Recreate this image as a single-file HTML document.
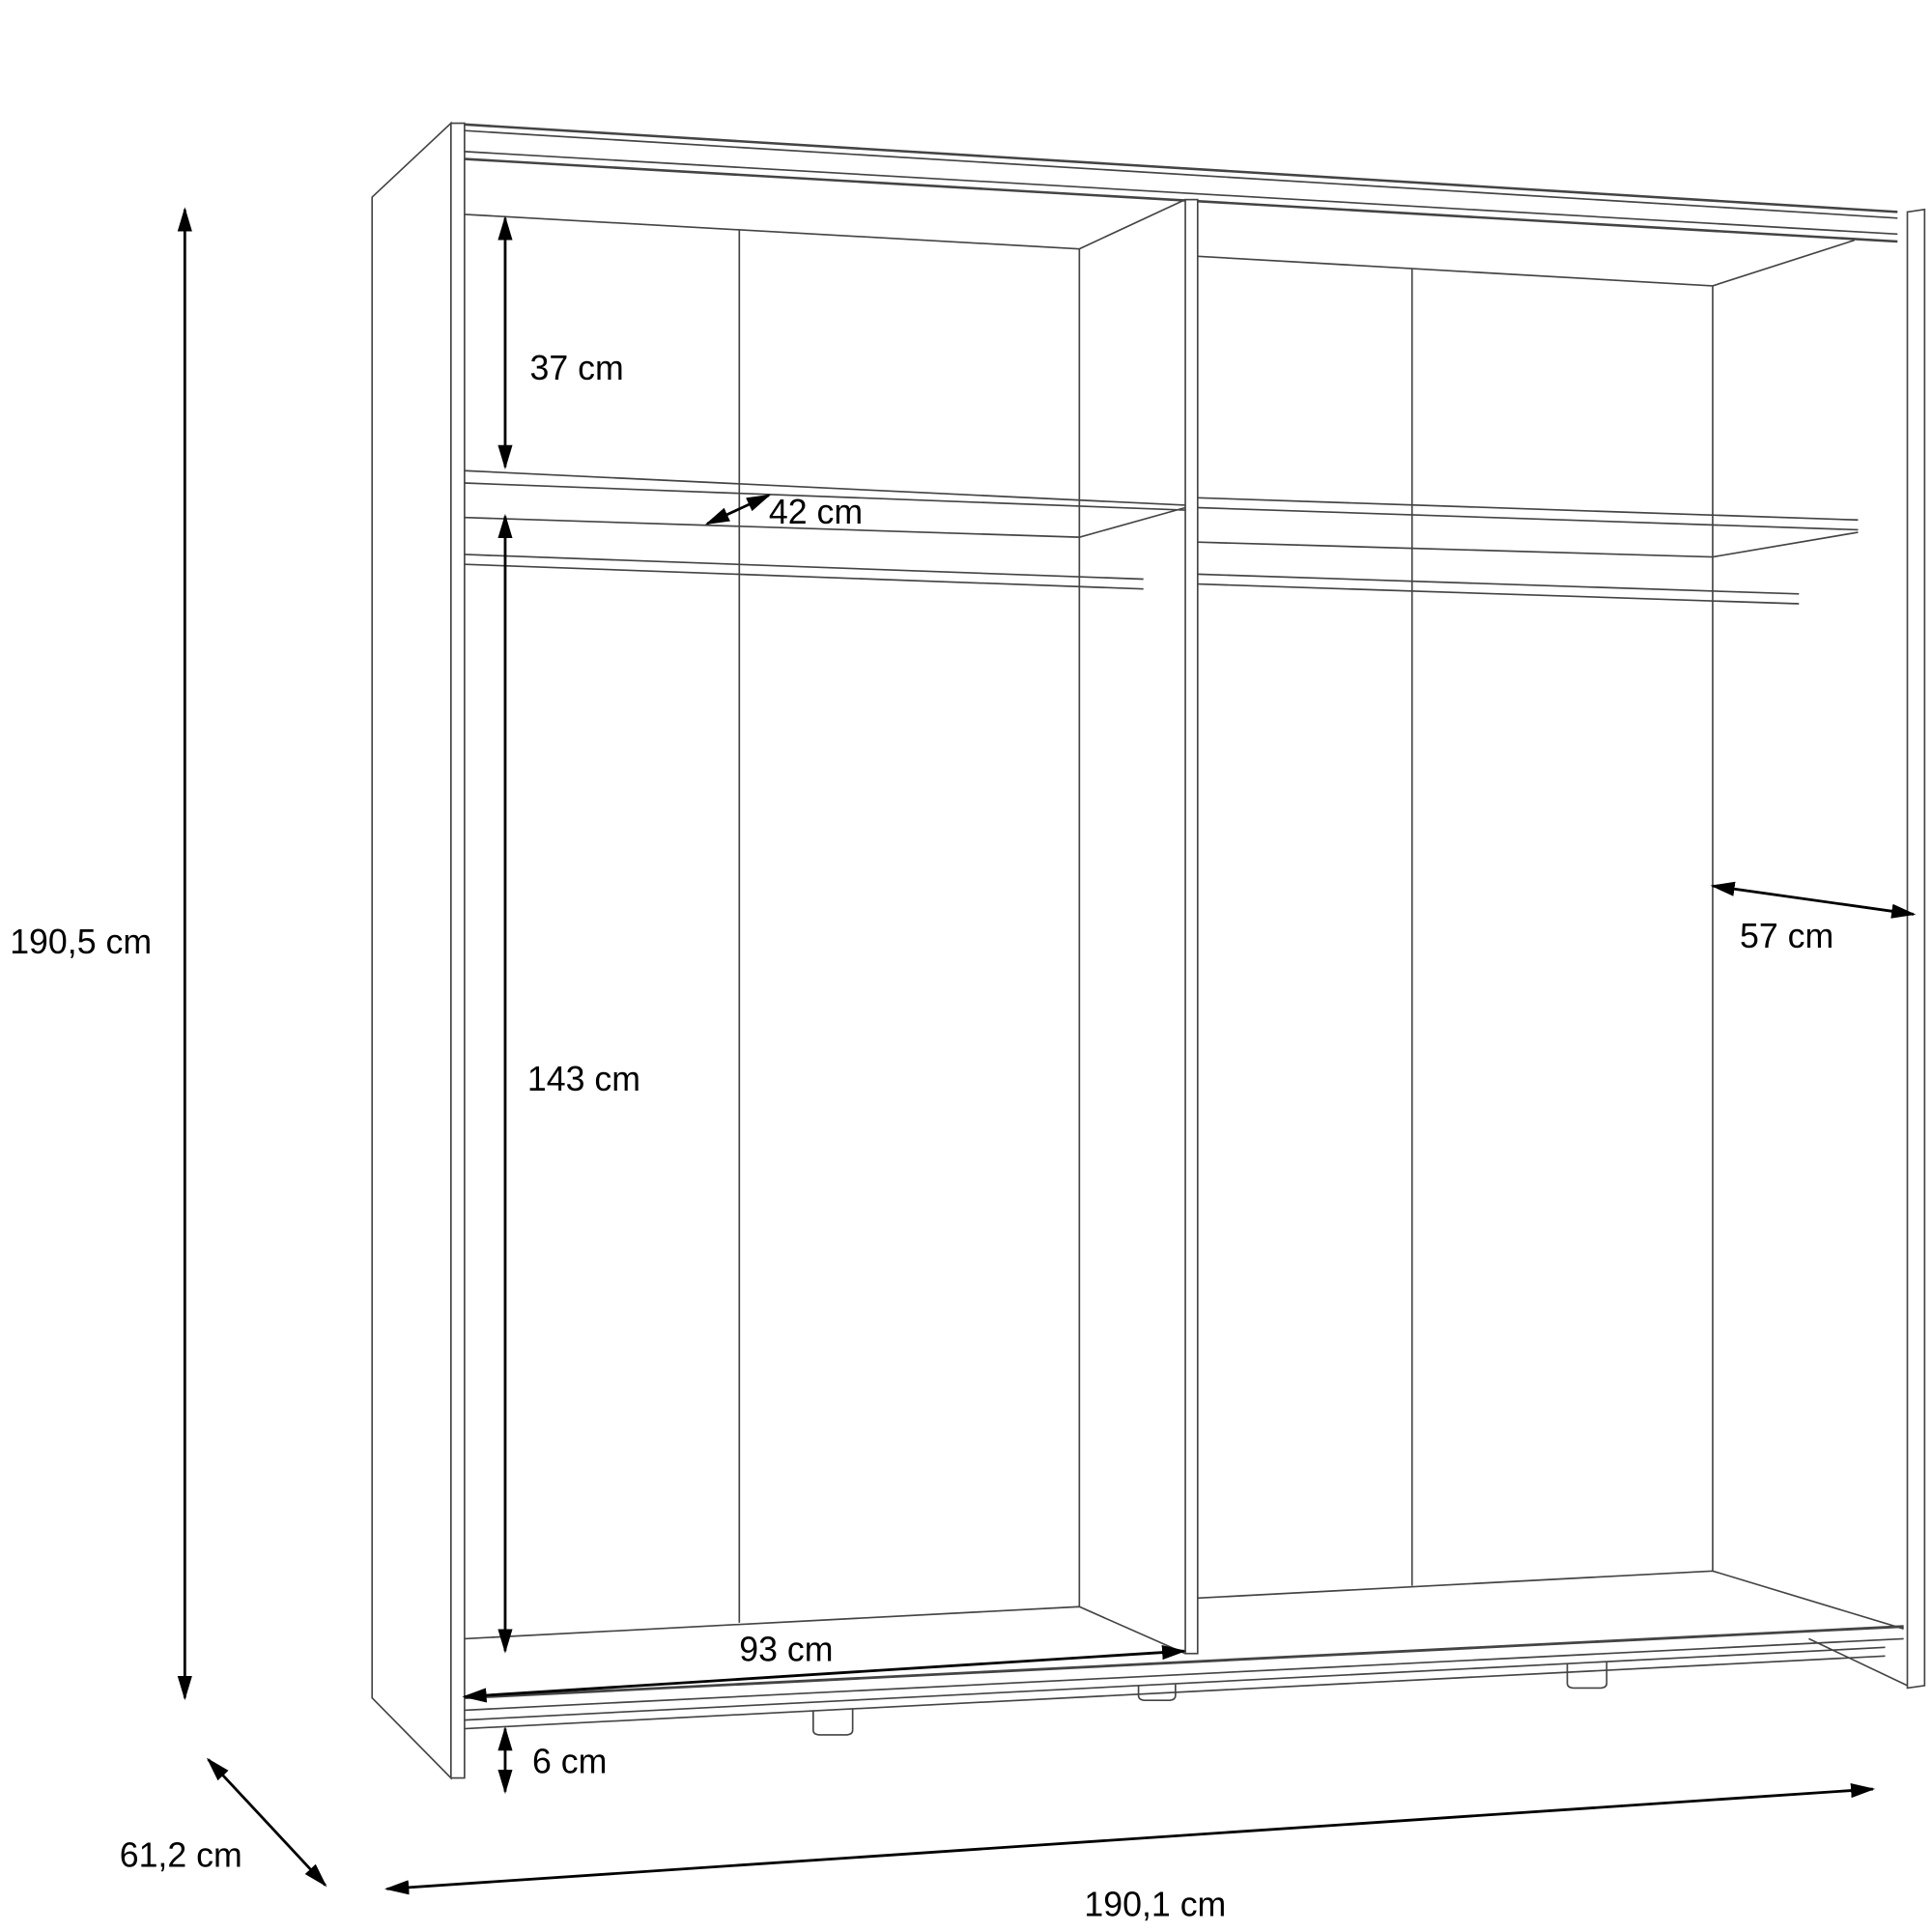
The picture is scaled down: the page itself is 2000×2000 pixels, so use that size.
<!DOCTYPE html>
<html><head><meta charset="utf-8"><style>html,body{margin:0;padding:0;background:#fff}svg{display:block}</style></head>
<body>
<svg width="2000" height="2000" viewBox="0 0 1568 1568" xmlns="http://www.w3.org/2000/svg">
<defs>
<marker id="a" viewBox="0 0 10 10" refX="9" refY="5" markerWidth="9" markerHeight="9" orient="auto-start-reverse"><path d="M0,2 L10,5 L0,8 Z" fill="#000"/></marker>
</defs>
<g fill="none" stroke="#444" stroke-width="1.3">
<polygon points="302,160 366,100 366,1443 302,1378" fill="#fff"/>
<rect x="366" y="100" width="11" height="1343" fill="#fff"/>
<line x1="377" y1="101" x2="1540" y2="172" stroke-width="2"/>
<line x1="377" y1="106" x2="1540" y2="177"/>
<line x1="377" y1="123" x2="1540" y2="190"/>
<line x1="377" y1="129" x2="1540" y2="196" stroke-width="2"/>
<polygon points="1548,172 1562,170 1562,1368 1548,1370" fill="#fff"/>
<line x1="1468" y1="1330" x2="1548" y2="1368"/>
<rect x="962" y="162" width="10" height="1180" fill="#fff"/>
<polyline points="377,174 876,202 962,162"/>
<line x1="600" y1="187" x2="600" y2="1317"/>
<line x1="876" y1="202" x2="876" y2="1304"/>
<polyline points="377,1330 876,1304 962,1342"/>
<line x1="377" y1="382" x2="962" y2="410"/>
<line x1="377" y1="392" x2="962" y2="414"/>
<polyline points="377,420 876,436 962,412"/>
<line x1="377" y1="450" x2="928" y2="470"/>
<line x1="377" y1="458" x2="928" y2="478"/>
<polyline points="972,208 1390,232 1505,195"/>
<line x1="1146" y1="218" x2="1146" y2="1287"/>
<line x1="1390" y1="232" x2="1390" y2="1275"/>
<polyline points="972,1297 1390,1275 1545,1322"/>
<line x1="972" y1="404" x2="1508" y2="422"/>
<line x1="972" y1="412" x2="1508" y2="430"/>
<polyline points="972,440 1390,452 1508,432"/>
<line x1="972" y1="466" x2="1460" y2="482"/>
<line x1="972" y1="474" x2="1460" y2="490"/>
<line x1="377" y1="1378" x2="1545" y2="1320" stroke-width="2.2"/>
<line x1="377" y1="1388" x2="1545" y2="1330"/>
<line x1="377" y1="1396" x2="1530" y2="1337"/>
<line x1="377" y1="1403" x2="1530" y2="1344"/>
<path d="M660,1388 V1404 Q660,1408 666,1408 H686 Q692,1408 692,1404 V1387"/>
<path d="M924,1368 V1376 Q924,1380 930,1380 H948 Q954,1380 954,1376 V1367"/>
<path d="M1272,1350 V1366 Q1272,1370 1278,1370 H1298 Q1304,1370 1304,1366 V1349"/>
</g>
<g stroke="#000" stroke-width="2.2" fill="none">
<line x1="150" y1="170" x2="150" y2="1378" marker-start="url(#a)" marker-end="url(#a)"/>
<line x1="410" y1="177" x2="410" y2="379" marker-start="url(#a)" marker-end="url(#a)"/>
<line x1="410" y1="419" x2="410" y2="1340" marker-start="url(#a)" marker-end="url(#a)"/>
<line x1="574" y1="425" x2="624" y2="402" marker-start="url(#a)" marker-end="url(#a)"/>
<line x1="377" y1="1377" x2="961" y2="1340" marker-start="url(#a)" marker-end="url(#a)"/>
<line x1="410" y1="1403" x2="410" y2="1454" marker-start="url(#a)" marker-end="url(#a)"/>
<line x1="1390" y1="719" x2="1553" y2="742" marker-start="url(#a)" marker-end="url(#a)"/>
<line x1="169" y1="1428" x2="264" y2="1530" marker-start="url(#a)" marker-end="url(#a)"/>
<line x1="314" y1="1533" x2="1520" y2="1452" marker-start="url(#a)" marker-end="url(#a)"/>
</g>
<g font-family="Liberation Sans, sans-serif" font-size="28" fill="#000">
<text x="8" y="774">190,5 cm</text>
<text x="430" y="308">37 cm</text>
<text x="624" y="425">42 cm</text>
<text x="428" y="885">143 cm</text>
<text x="600" y="1348">93 cm</text>
<text x="432" y="1439">6 cm</text>
<text x="1412" y="769">57 cm</text>
<text x="97" y="1515">61,2 cm</text>
<text x="880" y="1555">190,1 cm</text>
</g>
</svg>
</body></html>
